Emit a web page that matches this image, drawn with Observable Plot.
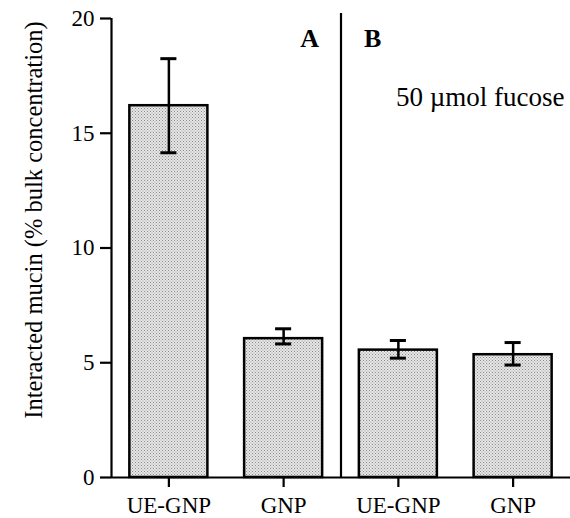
<!DOCTYPE html>
<html><head><meta charset="utf-8">
<script src="https://cdn.jsdelivr.net/npm/d3@7"></script>
<script src="https://cdn.jsdelivr.net/npm/@observablehq/plot@0.6"></script>
<style>html,body{margin:0;padding:0;background:#fff} svg{display:block}</style>
</head><body><div id="chart"></div>
<script>
// ---- data ----
const categories = ["UE-GNP", "GNP", "UE-GNP", "GNP"];
const panels = ["A", "A", "B", "B"];
const means = [16.2, 6.05, 5.55, 5.35];
const lower = [14.15, 5.82, 5.2, 4.9];
const upper = [18.25, 6.48, 5.97, 5.88];
const yTicks = [0, 5, 10, 15, 20];
const panelLabels = ["A", "B"];
const note = "50 \u00b5mol fucose";
const yLabel = "Interacted mucin (% bulk concentration)";

const data = categories.map((c, i) => ({pos: i + 1, cat: c, panel: panels[i], mean: means[i], lo: lower[i], hi: upper[i]}));
const positions = data.map(d => d.pos);
const boundary = (data.filter(d => d.panel === "A").length) + 0.5; // between panel A and B
const halfBar = 0.34, halfCap = 0.07;
const font = "'Liberation Serif', 'Times New Roman', serif";

const chart = Plot.plot({
  width: 570,
  height: 518,
  marginTop: 18,
  marginBottom: 41,
  marginLeft: 111,
  marginRight: 0,
  style: {fontFamily: font, fontSize: "23px", background: "#fff", color: "#000"},
  x: {type: "linear", domain: [0.5, positions.length + 0.5]},
  y: {domain: [0, 20]},
  marks: [
    Plot.rectY(data, {x1: d => d.pos - halfBar, x2: d => d.pos + halfBar, y1: 0, y2: "mean", fill: "url(#stipple)", stroke: "#000", strokeWidth: 2.5}),
    Plot.ruleX(data, {x: "pos", y1: "lo", y2: "hi", stroke: "#000", strokeWidth: 2.5}),
    Plot.ruleY(data, {y: "hi", x1: d => d.pos - halfCap, x2: d => d.pos + halfCap, stroke: "#000", strokeWidth: 3}),
    Plot.ruleY(data, {y: "lo", x1: d => d.pos - halfCap, x2: d => d.pos + halfCap, stroke: "#000", strokeWidth: 3}),
    Plot.ruleX([boundary], {stroke: "#000", strokeWidth: 2.2, insetTop: -5}),
    Plot.ruleX([0.5], {stroke: "#000", strokeWidth: 2.2}),
    Plot.ruleY([0], {stroke: "#000", strokeWidth: 2.2}),
    Plot.axisY({ticks: yTicks, tickSize: 11, tickPadding: 6, label: null, strokeWidth: 2.2, fontSize: 23}),
    Plot.axisX({ticks: positions, tickFormat: i => categories[i - 1], tickSize: 10, tickPadding: 9, label: null, strokeWidth: 2.2, fontSize: 23}),
    Plot.text([panelLabels[0]], {x: boundary, y: 19.1, text: d => d, textAnchor: "end", dx: -22, fontWeight: "bold", fontSize: 26}),
    Plot.text([panelLabels[1]], {x: boundary, y: 19.1, text: d => d, textAnchor: "start", dx: 23, fontWeight: "bold", fontSize: 26}),
    Plot.text([note], {x: boundary, y: 16.57, text: d => d, textAnchor: "start", dx: 55, fontSize: 27}),
    Plot.text([yLabel], {frameAnchor: "left", text: d => d, textAnchor: "middle", rotate: -90, dx: -77, dy: -28, fontSize: 24.5})
  ]
});

// stipple pattern for bar fill
const svg = d3.select(chart);
const defs = svg.insert("defs", ":first-child");
const pat = defs.append("pattern").attr("id", "stipple").attr("patternUnits", "userSpaceOnUse").attr("width", 3).attr("height", 3);
pat.append("rect").attr("width", 3).attr("height", 3).attr("fill", "#e6e6e6");
pat.append("rect").attr("x", 0).attr("y", 0).attr("width", 1).attr("height", 1).attr("fill", "#8a8a8a");
pat.append("rect").attr("x", 1.5).attr("y", 1.5).attr("width", 1).attr("height", 1).attr("fill", "#9a9a9a");

document.getElementById("chart").appendChild(chart);
</script>
</body></html>
